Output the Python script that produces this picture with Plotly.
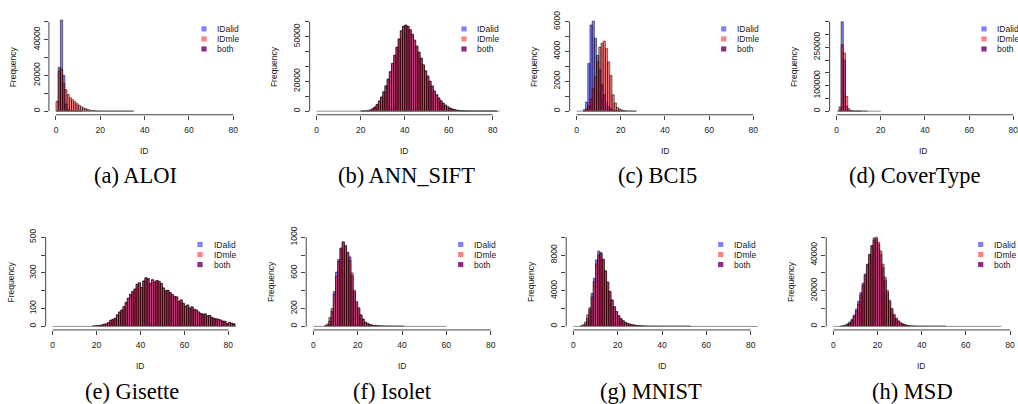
import plotly.graph_objects as go

W, H = 1018, 404

# ------------------------------------------------------------------ data
x_ticks = [0, 20, 40, 60, 80]
x_tick_labels = ["0", "20", "40", "60", "80"]
series_names = ["IDalid", "IDmle", "both"]

# (a) ALOI  -- counts per unit-width bin, first bin starts at *_start
aloi_start = 0
aloi_idalid = [0, 24500, 51000, 20000, 4000, 900, 300, 120, 50, 20, 10, 5]
aloi_idmle = [5500, 22500, 23500, 15500, 12000, 9300, 7500, 6400, 5300, 4200,
              3300, 2400, 1800, 1300, 900, 550, 350, 220, 140, 90, 60, 40, 25,
              15, 10, 8, 5, 4, 3, 2, 2, 1, 1, 1, 1]
aloi_extent = [0, 35]
aloi_yticks = [0, 10000, 20000, 30000, 40000, 50000]
aloi_ylabels = ["0", "", "20000", "", "40000", ""]

# (b) ANN_SIFT
sift_start = 20
sift_idalid = [30, 70, 180, 400, 850, 1600, 2800, 4500, 6800, 9500, 13000, 17000,
               21500, 26500, 32000, 37500, 43000, 48500, 54000, 57000, 57800,
               56800, 54500, 51500, 47500, 43500, 39500, 35500, 31000, 27000,
               23500, 20000, 16800, 13500, 11000, 8800, 6900, 5300, 4000, 2900,
               2100, 1500, 1050, 720, 500, 340, 230, 150, 100, 60, 40, 25, 15,
               10, 6, 4, 3, 2, 1, 1, 1, 1]
sift_idmle = [25, 65, 170, 390, 830, 1580, 2750, 4450, 6750, 9450, 12900, 16900,
              21400, 26400, 31900, 37300, 42800, 48300, 53800, 56900, 57700,
              56900, 54700, 51700, 47700, 43700, 39700, 35600, 31100, 27100,
              23600, 20100, 16900, 13600, 11100, 8900, 7000, 5400, 4050, 2950,
              2150, 1530, 1070, 730, 510, 345, 235, 155, 105, 62, 42, 26, 16,
              10, 6, 4, 3, 2, 1, 1, 1, 1]
sift_extent = [0, 84]
sift_yticks = [0, 10000, 20000, 30000, 40000, 50000, 60000]
sift_ylabels = ["0", "", "20000", "", "", "50000", ""]

# (c) BCI5
bci_start = 3
bci_idalid = [100, 615, 3200, 5780, 6040, 4900, 3740, 2800, 1800, 1100, 600, 300,
              150, 70, 30, 15, 8, 4, 2]
bci_idmle = [30, 150, 350, 800, 1500, 2300, 3300, 4300, 4550, 4700, 4200, 3300,
             2400, 1100, 550, 250, 150, 80, 40, 20, 10, 5, 5, 3]
bci_extent = [0, 27]
bci_yticks = [0, 1000, 2000, 3000, 4000, 5000, 6000]
bci_ylabels = ["0", "", "2000", "", "4000", "", "6000"]

# (d) CoverType
cov_start = 1
cov_idalid = [5000, 350000, 200000, 20000, 2000, 500, 150, 50, 20, 10]
cov_idmle = [17000, 260000, 228000, 58000, 9000, 2000, 600, 200, 80, 40, 20, 10, 5]
cov_extent = [0, 20]
cov_yticks = [0, 50000, 100000, 150000, 200000, 250000, 300000, 350000]
cov_ylabels = ["0", "", "100000", "", "", "250000", "", ""]

# (e) Gisette
gis_start = 18
gis_idalid = [2, 3, 4, 5, 8, 12, 14, 22, 35, 38, 45, 65, 80, 92, 110, 135, 158,
              180, 195, 210, 235, 245, 218, 255, 272, 268, 240, 262, 248, 258,
              252, 240, 215, 200, 202, 190, 178, 168, 165, 140, 148, 130, 112,
              120, 102, 110, 95, 92, 80, 72, 68, 70, 58, 62, 50, 45, 42, 40, 35,
              30, 28, 15, 22, 18, 14, 12]
gis_idmle = [2, 3, 4, 6, 8, 11, 15, 21, 34, 39, 46, 64, 81, 91, 111, 134, 159,
             179, 196, 209, 236, 244, 219, 254, 273, 267, 241, 261, 249, 257,
             253, 239, 216, 199, 203, 189, 179, 167, 166, 139, 149, 129, 113,
             119, 103, 109, 96, 91, 81, 71, 69, 69, 59, 61, 51, 44, 43, 39, 36,
             29, 29, 14, 23, 17, 15, 11]
gis_extent = [0, 84]
gis_yticks = [0, 100, 200, 300, 400, 500]
gis_ylabels = ["0", "100", "", "300", "", "500"]

# (f) Isolet
iso_start = 5
iso_idalid = [3, 15, 60, 170, 390, 610, 750, 880, 945, 900, 830, 780, 570, 390,
              270, 200, 125, 80, 45, 32, 20, 14, 10, 8, 6, 5, 4, 3, 3, 2, 2, 2,
              1, 1, 1, 1]
iso_idmle = [8, 28, 100, 200, 360, 560, 730, 870, 950, 910, 830, 740, 600, 405,
             278, 210, 130, 82, 46, 34, 20, 15, 11, 8, 6, 5, 4, 3, 3, 2, 2, 1,
             1, 1, 1, 1]
iso_extent = [0, 60]
iso_yticks = [0, 200, 400, 600, 800, 1000]
iso_ylabels = ["0", "200", "", "600", "", "1000"]

# (g) MNIST
mn_start = 3
mn_idalid = [10, 50, 250, 900, 1900, 3680, 5400, 7460, 8450, 8200, 7500, 6200,
             4950, 3900, 2950, 2200, 1650, 1180, 850, 620, 440, 330, 250, 190,
             140, 110, 80, 60, 45, 35, 27, 20, 15, 12, 10, 8, 6, 5, 4, 3, 3, 2,
             2, 2, 1, 1, 1, 1, 1, 1]
mn_idmle = [30, 180, 480, 1300, 2100, 3300, 5000, 7000, 8000, 8270, 7540, 6250,
            4980, 3930, 2960, 2210, 1660, 1190, 860, 630, 445, 335, 255, 195,
            145, 112, 82, 62, 46, 36, 28, 21, 16, 12, 10, 8, 6, 5, 4, 3, 3, 2,
            2, 2, 1, 1, 1, 1, 1, 1]
mn_extent = [0, 84]
mn_yticks = [0, 2000, 4000, 6000, 8000, 10000]
mn_ylabels = ["0", "", "4000", "", "8000", ""]

# (h) MSD
msd_start = 3
msd_idalid = [100, 300, 700, 1400, 2400, 4000, 6400, 9700, 14100, 18900, 24200,
              29400, 34900, 40300, 45000, 48500, 49000, 46000, 40500, 33000,
              26000, 19000, 13800, 9500, 6400, 4300, 2900, 1900, 1300, 850, 550,
              350, 230, 150, 100, 70, 50, 35, 25, 18, 12, 8, 6, 4, 3, 2, 2, 1]
msd_idmle = [50, 200, 550, 1200, 2000, 3300, 5500, 8500, 12500, 17500, 23000,
             28500, 34500, 40400, 45400, 49600, 50000, 47200, 42300, 34900,
             27600, 20200, 14700, 10100, 6800, 4600, 3100, 2000, 1400, 900, 580,
             370, 240, 160, 100, 70, 50, 35, 25, 18, 12, 8, 6, 4, 3, 2, 2, 1]
msd_extent = [0, 76]
msd_yticks = [0, 10000, 20000, 30000, 40000, 50000]
msd_ylabels = ["0", "", "20000", "", "40000", ""]

panels = [
    ("(a) ALOI", aloi_start, aloi_idalid, aloi_idmle, aloi_extent, aloi_yticks, aloi_ylabels),
    ("(b) ANN_SIFT", sift_start, sift_idalid, sift_idmle, sift_extent, sift_yticks, sift_ylabels),
    ("(c) BCI5", bci_start, bci_idalid, bci_idmle, bci_extent, bci_yticks, bci_ylabels),
    ("(d) CoverType", cov_start, cov_idalid, cov_idmle, cov_extent, cov_yticks, cov_ylabels),
    ("(e) Gisette", gis_start, gis_idalid, gis_idmle, gis_extent, gis_yticks, gis_ylabels),
    ("(f) Isolet", iso_start, iso_idalid, iso_idmle, iso_extent, iso_yticks, iso_ylabels),
    ("(g) MNIST", mn_start, mn_idalid, mn_idmle, mn_extent, mn_yticks, mn_ylabels),
    ("(h) MSD", msd_start, msd_idalid, msd_idmle, msd_extent, msd_yticks, msd_ylabels),
]

# ------------------------------------------------------------------ layout geometry (page pixels)
# x of value 0, x of value 80, y of value 0, y of top tick,
# legend text x, legend square x, legend first row y, caption centre x, caption centre y
geometry = [
    (56.0, 233.3, 106.0, 15.0, 215.0, 204.0, 22.3, 135, 171.5),
    (316.7, 492.7, 106.0, 15.0, 475.0, 464.0, 22.3, 406, 171.5),
    (576.7, 753.3, 106.0, 15.0, 734.5, 723.7, 22.3, 657, 171.5),
    (836.7, 1013.3, 106.0, 15.0, 995.0, 984.0, 22.3, 915, 171.5),
    (52.7, 228.3, 325.0, 234.3, 211.7, 200.0, 241.7, 132, 390.8),
    (313.3, 490.7, 325.0, 234.3, 471.7, 460.7, 241.7, 392, 390.8),
    (573.3, 750.7, 325.0, 234.3, 731.7, 720.7, 241.7, 651, 390.8),
    (833.3, 1010.0, 325.0, 234.3, 991.7, 980.7, 241.7, 912, 390.8),
]

BLUE = "rgba(0,0,255,0.5)"
RED = "rgba(255,0,0,0.5)"
LEG_COLORS = ["#8080ff", "#ff8080", "#8a2c86"]
EDGE = "rgba(0,0,0,0.85)"
AXC = "#444444"
TXT = "#1a1a1a"
SANS = "Liberation Sans, Arial, sans-serif"
SERIF = "Liberation Serif, Times New Roman, serif"
FS = 8.5


def px(x):
    return x / W


def py(y):
    return 1 - y / H


fig = go.Figure()
layout = dict(
    width=W, height=H, margin=dict(l=0, r=0, t=0, b=0),
    paper_bgcolor="white", plot_bgcolor="white",
    barmode="overlay", showlegend=False, bargap=0,
)
shapes = []
annotations = []

for i, (label, start, alid, mle, extent, yticks, ylabels) in enumerate(panels):
    x0p, x80p, y0p, ytp, legtx, legsq, legy, capx, capy = geometry[i]
    n = "" if i == 0 else str(i + 1)
    xa, ya = "x" + n, "y" + n

    # x mapping (R: xlim 0..80 plus 4% each side)
    s = (x80p - x0p) / 80.0
    left = x0p - 3.2 * s
    right = min(W, x80p + 3.2 * s)
    xr = [(left - x0p) / s, (right - x0p) / s]
    # y mapping (ylim 0..top tick plus 4%)
    T = yticks[-1]
    sy = (y0p - ytp) / T
    bottom = y0p + 0.04 * T * sy
    top = ytp - 0.04 * T * sy
    yr = [-0.04 * T, 1.04 * T]

    # baseline (zero-count bins of the histograms)
    fig.add_trace(go.Scatter(x=extent, y=[0, 0], mode="lines",
                             line=dict(color="#8f8f8f", width=1),
                             xaxis=xa, yaxis=ya, hoverinfo="skip", showlegend=False))
    for counts, col, nm in ((alid, BLUE, "IDalid"), (mle, RED, "IDmle")):
        fig.add_trace(go.Bar(
            x=[start + k + 0.5 for k in range(len(counts))], y=counts, width=1,
            marker=dict(color=col, line=dict(color=EDGE, width=0.6)),
            name=nm, xaxis=xa, yaxis=ya, showlegend=False))

    layout["xaxis" + n] = dict(
        domain=[px(left), min(1.0, px(right))], range=xr, anchor=ya,
        tickmode="array", tickvals=x_ticks, ticktext=x_tick_labels,
        ticks="outside", ticklen=4, tickwidth=1, tickcolor=AXC,
        showline=False, showgrid=False, zeroline=False, fixedrange=True,
        ticklabeloverflow="allow",
        tickfont=dict(family=SANS, size=FS, color=TXT), ticklabelstandoff=3,
    )
    layout["yaxis" + n] = dict(
        domain=[py(bottom), py(top)], range=yr, anchor=xa,
        tickmode="array", tickvals=yticks, ticktext=ylabels, tickangle=-90,
        ticks="outside", ticklen=4, tickwidth=1, tickcolor=AXC,
        showline=False, showgrid=False, zeroline=False, fixedrange=True,
        ticklabeloverflow="allow",
        tickfont=dict(family=SANS, size=FS, color=TXT), ticklabelstandoff=1,
    )
    # axis lines spanning first..last tick (R style)
    shapes.append(dict(type="line", xref=xa, yref=ya + " domain",
                       x0=x_ticks[0], x1=x_ticks[-1], y0=0, y1=0,
                       line=dict(color=AXC, width=1)))
    shapes.append(dict(type="line", xref=xa + " domain", yref=ya,
                       x0=0, x1=0, y0=yticks[0], y1=yticks[-1],
                       line=dict(color=AXC, width=1)))
    # axis titles
    annotations.append(dict(text="ID", xref=xa + " domain", yref=ya + " domain",
                            x=0.5, y=0, yshift=-36, showarrow=False,
                            xanchor="center", yanchor="middle",
                            font=dict(family=SANS, size=FS, color=TXT)))
    freq_x = max(left - 35.0, 5.2)
    annotations.append(dict(text="Frequency", xref="paper", yref=ya + " domain",
                            x=px(freq_x), y=0.5, showarrow=False, textangle=-90,
                            xanchor="center", yanchor="middle",
                            font=dict(family=SANS, size=FS, color=TXT)))
    # legend
    for r, (nm, c) in enumerate(zip(series_names, LEG_COLORS)):
        yy = legy + r * 10.2
        shapes.append(dict(type="rect", xref="paper", yref="paper",
                           x0=px(legsq - 2.6), x1=px(legsq + 2.6),
                           y0=py(yy + 2.6), y1=py(yy - 2.6),
                           fillcolor=c, line=dict(width=0)))
        annotations.append(dict(text=nm, xref="paper", yref="paper",
                                x=px(legtx), y=py(yy), showarrow=False,
                                xanchor="left", yanchor="middle",
                                font=dict(family=SANS, size=FS, color=TXT)))
    # caption
    annotations.append(dict(text=label, xref="paper", yref="paper",
                            x=px(capx), y=py(capy), showarrow=False,
                            xanchor="center", yanchor="middle",
                            font=dict(family=SERIF, size=22.5, color="#000000")))

layout["shapes"] = shapes
layout["annotations"] = annotations
fig.update_layout(**layout)
# let the figure fill the page exactly (no default body margin, no scrollbars)
fig.write_html(
    "out.html",
    config={"displayModeBar": False, "staticPlot": True},
    post_script=("document.body.style.margin='0';"
                 "document.body.style.overflow='hidden';"
                 "document.documentElement.style.overflow='hidden';"),
)
